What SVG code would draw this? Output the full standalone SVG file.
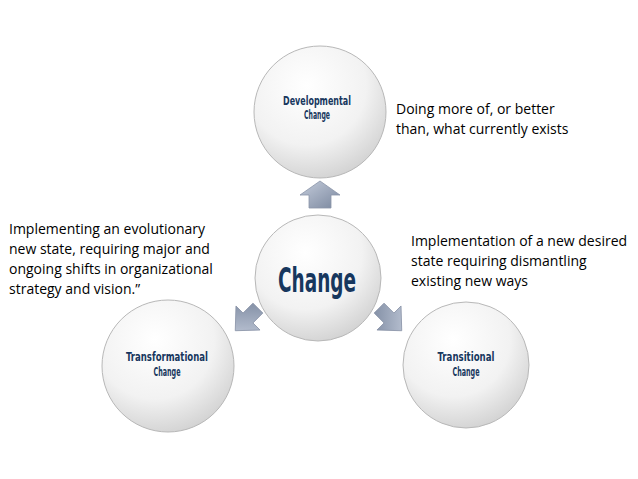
<svg xmlns="http://www.w3.org/2000/svg" width="638" height="479" viewBox="0 0 638 479">
<defs>
<radialGradient id="g" cx="0.4" cy="0.3" r="0.75">
<stop offset="0" stop-color="#ffffff"/><stop offset="0.6" stop-color="#f2f2f2"/><stop offset="1" stop-color="#d0d0d0"/>
</radialGradient>
<linearGradient id="a" x1="0" y1="0" x2="1" y2="1">
<stop offset="0" stop-color="#c5cddc"/><stop offset="1" stop-color="#7a879e"/>
</linearGradient>
<style>
.c{fill:url(#g);stroke:#b8b8b8;stroke-width:1}
.n{font-family:"DejaVu Sans",sans-serif;font-stretch:condensed;font-weight:bold;fill:#17375e;text-anchor:middle;font-size:12px}
.t{font-family:"Open Sans","Liberation Sans",sans-serif;font-size:14px;fill:#000}
.ar{fill:url(#a);stroke:#8a94a8;stroke-width:0.8}
</style>
</defs>
<rect width="638" height="479" fill="#fff"/>
<g id="connectors">
<polygon class="ar" points="320,181 340,195 331,195 331,208 309,208 309,195 300,195"/>
<polygon class="ar" transform="translate(248,318) rotate(-135)" points="0,-18 17,0 7,0 7,14 -7,14 -7,0 -17,0"/>
<polygon class="ar" transform="translate(389,318) rotate(135)" points="0,-18 17,0 7,0 7,14 -7,14 -7,0 -17,0"/>
</g>
<g id="dev"><circle class="c" cx="320" cy="112" r="66"/>
<text class="n" x="317" y="105" textLength="68" lengthAdjust="spacingAndGlyphs">Developmental</text><text class="n" x="317" y="119" textLength="26" lengthAdjust="spacingAndGlyphs">Change</text></g>
<g id="change"><circle class="c" cx="318" cy="278" r="63"/>
<text class="n" x="317" y="292" style="font-size:34px" textLength="78" lengthAdjust="spacingAndGlyphs">Change</text></g>
<g id="trans"><circle class="c" cx="168" cy="366" r="66"/>
<text class="n" x="167" y="361" textLength="82" lengthAdjust="spacingAndGlyphs">Transformational</text><text class="n" x="167" y="376" textLength="27" lengthAdjust="spacingAndGlyphs">Change</text></g>
<g id="transit"><circle class="c" cx="466" cy="365" r="63"/>
<text class="n" x="466" y="361" textLength="57" lengthAdjust="spacingAndGlyphs">Transitional</text><text class="n" x="466" y="376" textLength="27" lengthAdjust="spacingAndGlyphs">Change</text></g>
<g id="texts">
<text class="t" x="396" y="114">Doing more of, or better</text>
<text class="t" x="396" y="134">than, what currently exists</text>
<text class="t" x="411" y="246">Implementation of a new desired</text>
<text class="t" x="411" y="266">state requiring dismantling</text>
<text class="t" x="411" y="286">existing new ways</text>
<text class="t" x="9" y="234">Implementing an evolutionary</text>
<text class="t" x="9" y="254">new state, requiring major and</text>
<text class="t" x="9" y="274">ongoing shifts in organizational</text>
<text class="t" x="9" y="294">strategy and vision.”</text>
</g>
</svg>
